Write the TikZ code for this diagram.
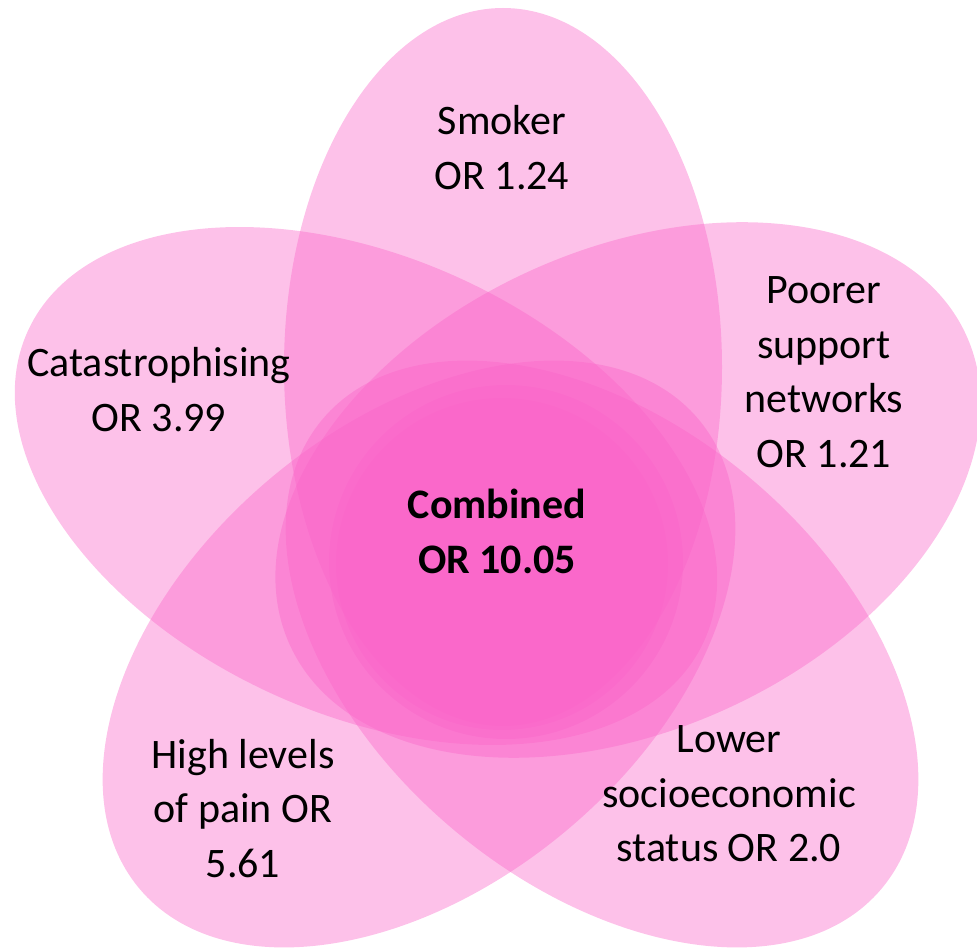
\documentclass[tikz,border=0pt]{standalone}
\usepackage{fontspec}
\setmainfont{Carlito}
\definecolor{petalpink}{RGB}{250,100,200}
\begin{document}
\begin{tikzpicture}[x=1pt,y=1pt,
  petal/.style={fill=petalpink, fill opacity=0.4},
  lab/.style={align=center, inner sep=0pt, text=black, font=\fontsize{42}{54.5}\selectfont}]
\useasboundingbox (0,0) rectangle (977,951);
% top petal (Smoker)
\fill[petal] (503,584) ellipse[x radius=219, y radius=359];
% left petal (Catastrophising)
\fill[petal, rotate around={-24.7:(366,465)}] (366,465) ellipse[x radius=372, y radius=228];
% right petal (Poorer support networks)
\fill[petal, rotate around={24.7:(628,461)}] (628,461) ellipse[x radius=372, y radius=240];
% bottom-left petal (High levels of pain)
\fill[petal, rotate around={40:(419,297)}] (419,297) ellipse[x radius=365, y radius=230];
% bottom-right petal (Lower socioeconomic status)
\fill[petal, rotate around={-40:(602,297)}] (602,297) ellipse[x radius=365, y radius=230];
% central circles
\fill[petal] (506,389) circle[radius=177];
\fill[petal] (502,387) circle[radius=166];
% labels
\node[lab] (smoker) at (502,803.5) {Smoker\\OR 1.24};
\node[lab] (catas) at (159,561.5) {Catastrophising\\OR 3.99};
\node[lab] (poorer) at (824,579) {Poorer\\support\\networks\\OR 1.21};
\node[lab] (pain) at (243,142.5) {High levels\\of pain OR\\5.61};
\node[lab] (lower) at (729,157) {Lower\\socioeconomic\\status OR 2.0};
\node[lab, font=\fontsize{42}{54.5}\selectfont\bfseries] (combined) at (497,419.5) {Combined\\OR 10.05};
\end{tikzpicture}
\end{document}
